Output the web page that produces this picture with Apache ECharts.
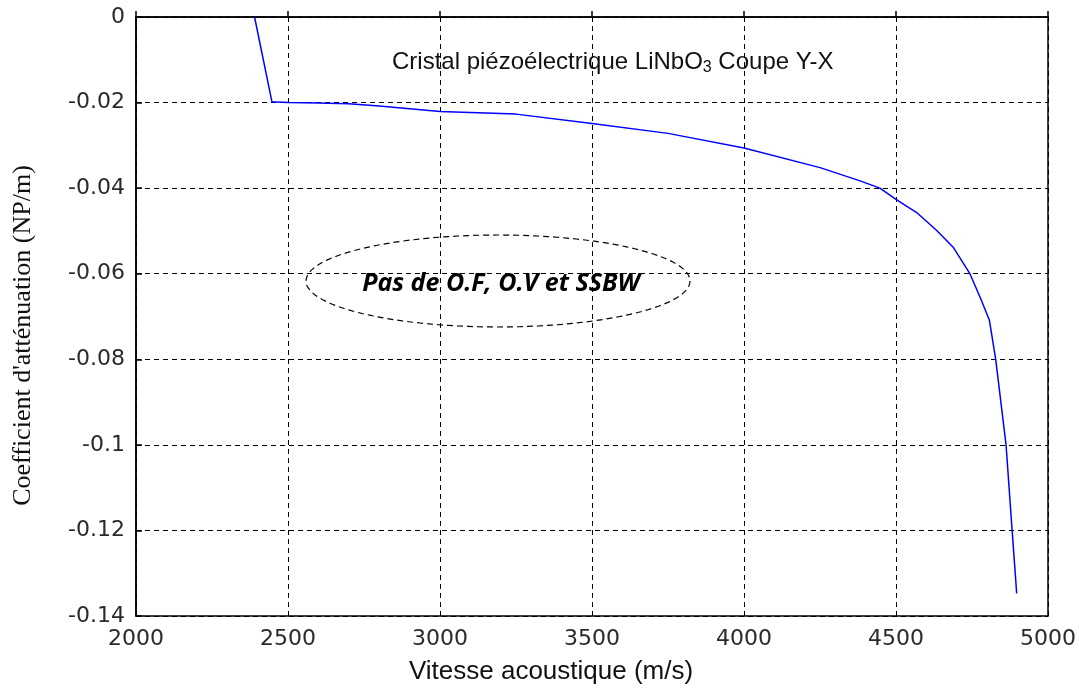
<!DOCTYPE html>
<html>
<head>
<meta charset="utf-8">
<script src="https://cdn.jsdelivr.net/npm/echarts@6/dist/echarts.min.js"></script>
<style>html,body{margin:0;padding:0;background:#fff}#c{width:1079px;height:688px}</style>
</head>
<body>
<div id="c"></div>
<script>
const velocity = [2390, 2447, 2500, 2600, 2700, 2800, 3000, 3250, 3500, 3750, 4000, 4250, 4382, 4447, 4500, 4568, 4634, 4688, 4743, 4776, 4807, 4828, 4862, 4882, 4897];
const attenuation = [0, -0.0198, -0.0200, -0.0201, -0.0203, -0.0208, -0.0221, -0.0227, -0.0249, -0.0272, -0.0306, -0.0352, -0.0383, -0.0400, -0.0426, -0.0457, -0.0499, -0.0538, -0.0600, -0.0654, -0.0708, -0.0800, -0.1000, -0.1200, -0.1347];
const xTickLabels = ['2000', '2500', '3000', '3500', '4000', '4500', '5000'];
const yTickLabels = ['0', '-0.02', '-0.04', '-0.06', '-0.08', '-0.1', '-0.12', '-0.14'];

const chart = echarts.init(document.getElementById('c'));
const font = '"Liberation Sans", Arial, sans-serif';
const tickFont = '"DejaVu Sans", sans-serif';

// dashed ellipse annotation
const cx = 498, cy = 281, rx = 192, ry = 46;
const ell = [];
for (let i = 0; i < 120; i++) {
  const a = i / 120 * Math.PI * 2;
  ell.push([cx + rx * Math.cos(a), cy + ry * Math.sin(a)]);
}

chart.setOption({
  animation: false,
  backgroundColor: '#fff',
  grid: { left: 136, right: 31, top: 17, bottom: 72, outerBoundsMode: 'none', containLabel: false,
    show: true, borderColor: '#000', borderWidth: 1.5, backgroundColor: 'transparent' },
  xAxis: {
    type: 'value', min: 2000, max: 5000, interval: 500,
    name: 'Vitesse acoustique (m/s)', nameLocation: 'middle', nameGap: 43,
    nameTextStyle: { fontFamily: font, fontSize: 26, color: '#111', padding: [0, 82, 0, 0] },
    axisLine: { show: true, lineStyle: { color: '#000', width: 1.5 } },
    axisTick: { show: true, inside: true, length: 6, lineStyle: { color: '#000', width: 1.5 } },
    axisLabel: { fontFamily: tickFont, fontSize: 22, color: '#2a2a2a', margin: 12,
      formatter: v => xTickLabels[Math.round((v - 2000) / 500)] },
    splitLine: { show: true, lineStyle: { color: '#000', type: [5, 4], width: 1 } }
  },
  yAxis: {
    type: 'value', min: -0.14, max: 0, interval: 0.02,
    name: "Coefficient d'atténuation (NP/m)", nameLocation: 'middle', nameGap: 100, nameRotate: 90,
    nameTextStyle: { fontFamily: '"Liberation Serif", "Times New Roman", serif', fontSize: 26, color: '#111', padding: [0, 38, 0, 0] },
    axisLine: { show: true, lineStyle: { color: '#000', width: 1.5 } },
    axisTick: { show: true, inside: true, length: 6, lineStyle: { color: '#000', width: 1.5 } },
    axisLabel: { fontFamily: tickFont, fontSize: 22, color: '#2a2a2a', margin: 11,
      formatter: v => yTickLabels[Math.round(-v / 0.02)] },
    splitLine: { show: true, lineStyle: { color: '#000', type: [5, 4], width: 1 } }
  },
  series: [{
    type: 'line',
    data: velocity.map((v, i) => [v, attenuation[i]]),
    showSymbol: false, symbol: 'none',
    lineStyle: { color: '#0000ff', width: 1.5 },
    z: 5
  }],
  graphic: [
    { type: 'text', left: 392, top: 50, z: 10,
      style: { text: '{a|Cristal piézoélectrique LiNbO}{s|3}{a| Coupe Y-X}',
        rich: { a: { fontFamily: font, fontSize: 24, fill: '#111' },
                s: { fontFamily: font, fontSize: 16, fill: '#111', verticalAlign: 'bottom', padding: [12, 0, 0, 0] } } } },
    { type: 'polygon', z: 10, shape: { points: ell },
      style: { fill: 'none', stroke: '#000', lineWidth: 1.2, lineDash: [6, 4] } },
    { type: 'text', x: 501, y: 284, z: 11,
      style: { text: 'Pas de O.F, O.V et SSBW', fontFamily: '"Open Sans", "Noto Sans", sans-serif',
        fontStyle: 'italic', fontWeight: 'bold', fontSize: 25, fill: '#000', align: 'center', verticalAlign: 'middle' } }
  ]
});
</script>
</body>
</html>
